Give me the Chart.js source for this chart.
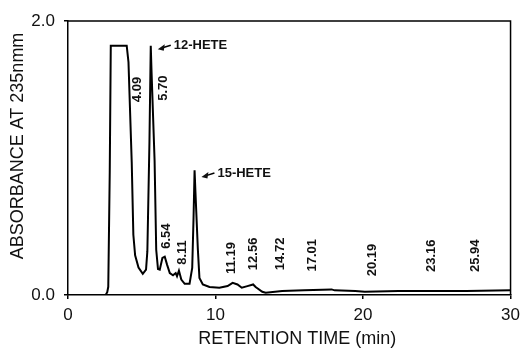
<!DOCTYPE html>
<html>
<head>
<meta charset="utf-8">
<script src="https://cdn.jsdelivr.net/npm/chart.js@4"></script>
<style>
  html, body { margin: 0; padding: 0; background: #fff; }
  #wrap { width: 526px; height: 349px; position: relative; }
</style>
</head>
<body>
<div id="wrap"><canvas id="hplc-chart"></canvas></div>
<script>
// chromatogram trace
const retentionTime = [0, 2.55, 2.66, 2.73, 2.83, 2.9, 3.98, 4.1, 4.32, 4.43, 4.55, 4.78, 5.07, 5.29, 5.38, 5.52, 5.61,
    5.66, 5.87, 5.98, 6.1, 6.22, 6.4, 6.56, 6.72, 6.9, 7.12, 7.3, 7.39, 7.52, 7.68, 7.91, 8.24, 8.42, 8.51,
    8.58, 8.64, 8.8, 8.91, 9.14, 9.59, 10.26, 10.82, 11.16, 11.49, 11.78, 12.16, 12.55, 12.72, 13.17, 13.4, 14.52,
    16.0, 17.87, 18.07, 19.47, 20.12, 22.4, 24.6, 27.0, 30.0];
const absorbance = [0, 0, 0.02, 0.06, 0.9, 1.82, 1.82, 1.7, 0.97, 0.44, 0.29, 0.2, 0.154, 0.185, 0.32, 1.11, 1.82,
    1.64, 0.98, 0.33, 0.19, 0.185, 0.27, 0.28, 0.22, 0.16, 0.144, 0.16, 0.137, 0.178, 0.113, 0.082, 0.082, 0.197, 0.56,
    0.91, 0.75, 0.34, 0.125, 0.077, 0.058, 0.053, 0.065, 0.089, 0.077, 0.053, 0.065, 0.077, 0.058, 0.024, 0.017, 0.029,
    0.035, 0.041, 0.034, 0.029, 0.024, 0.029, 0.029, 0.03, 0.034];

const xTicks = [0, 10, 20, 30];
const yTicks = [0, 2];

const xTitle = "RETENTION TIME (min)";
const yTitle = "ABSORBANCE AT 235nmm";

const peakLabels = ["4.09", "5.70", "6.54", "8.11", "11.19", "12.56", "14.72", "17.01", "20.19", "23.16", "25.94"];
const peakNames = ["12-HETE", "15-HETE"];

// where the printed labels sit (data units), kept apart from the values
const peakLabelSpots = [[4.72, 1.50], [6.49, 1.51], [6.66, 0.43], [7.77, 0.31], [11.11, 0.27], [12.55, 0.30],
    [14.43, 0.30], [16.54, 0.29], [20.65, 0.255], [24.63, 0.286], [27.61, 0.286]];
const peakNameSpots = [[7.17, 1.823], [10.13, 0.89]];

const FONT = "'Liberation Sans', Arial, Helvetica, sans-serif";

const annotate = {
    id: "annotate",
    afterDraw(chart) {
        const { ctx, chartArea, scales } = chart;
        const x = scales.x, y = scales.y;
        ctx.save();
        // frame top and right
        ctx.strokeStyle = "#000";
        ctx.lineWidth = 1.5;
        ctx.beginPath();
        ctx.moveTo(chartArea.left, chartArea.top);
        ctx.lineTo(chartArea.right, chartArea.top);
        ctx.lineTo(chartArea.right, chartArea.bottom);
        ctx.stroke();

        // axis titles (sit a little off-centre in the original)
        ctx.fillStyle = "#111";
        ctx.font = "18px " + FONT;
        ctx.textAlign = "center";
        ctx.textBaseline = "middle";
        ctx.fillText(xTitle, (chartArea.left + chartArea.right) / 2 + 8, chart.height - 10);
        ctx.save();
        ctx.translate(18, (chartArea.top + chartArea.bottom) / 2 - 12);
        ctx.rotate(-Math.PI / 2);
        ctx.fillText(yTitle, 0, 0);
        ctx.restore();

        // rotated retention times
        ctx.font = "bold 13px " + FONT;
        peakLabels.forEach((txt, i) => {
            const px = x.getPixelForValue(peakLabelSpots[i][0]);
            const py = y.getPixelForValue(peakLabelSpots[i][1]);
            ctx.save();
            ctx.translate(px, py);
            ctx.rotate(-Math.PI / 2);
            ctx.fillText(txt, 0, 0);
            ctx.restore();
        });

        // named peaks with arrows
        ctx.textAlign = "left";
        peakNames.forEach((txt, i) => {
            const px = x.getPixelForValue(peakNameSpots[i][0]);
            const py = y.getPixelForValue(peakNameSpots[i][1]);
            ctx.fillText(txt, px, py);
            const x0 = px - 3, y0 = py, x1 = px - 16, y1 = py + 4;
            ctx.lineWidth = 1.5;
            ctx.beginPath();
            ctx.moveTo(x0, y0);
            ctx.lineTo(x1 + 4, y1 - 1.2);
            ctx.stroke();
            ctx.beginPath();
            ctx.moveTo(x1, y1);
            ctx.lineTo(x1 + 7, y1 - 5);
            ctx.lineTo(x1 + 6, y1 + 1.5);
            ctx.closePath();
            ctx.fill();
        });
        ctx.restore();
    },
};

new Chart(document.getElementById("hplc-chart"), {
    type: "line",
    data: {
        datasets: [
            {
                data: retentionTime.map((t, i) => ({ x: t, y: absorbance[i] })),
                borderColor: "#000",
                borderWidth: 2,
                pointRadius: 0,
                tension: 0,
                fill: false,
            },
        ],
    },
    options: {
        responsive: true,
        maintainAspectRatio: false,
        animation: false,
        layout: { padding: { top: 21, right: 13, left: 0, bottom: 0 } },
        plugins: {
            legend: { display: false },
            tooltip: { enabled: false },
        },
        scales: {
            x: {
                type: "linear",
                min: xTicks[0],
                max: xTicks[xTicks.length - 1],
                afterBuildTicks: (s) => { s.ticks = xTicks.map((v) => ({ value: v })); },
                afterFit: (s) => { s.height = 54; },
                grid: { drawOnChartArea: false, drawTicks: true, tickLength: 4, color: "#000", lineWidth: 1.5 },
                border: { color: "#000", width: 1.5 },
                ticks: { color: "#111", font: { family: FONT, size: 17 }, padding: 6, maxRotation: 0 },
            },
            y: {
                min: yTicks[0],
                max: yTicks[yTicks.length - 1],
                afterBuildTicks: (s) => { s.ticks = yTicks.map((v) => ({ value: v })); },
                afterFit: (s) => { s.width = 68; },
                grid: { drawOnChartArea: false, drawTicks: true, tickLength: 4, color: "#000", lineWidth: 1.5 },
                border: { color: "#000", width: 1.5 },
                ticks: {
                    color: "#111",
                    font: { family: FONT, size: 17 },
                    padding: 9,
                    callback: (v) => v.toFixed(1),
                },
            },
        },
    },
    plugins: [annotate],
});
</script>
</body>
</html>
